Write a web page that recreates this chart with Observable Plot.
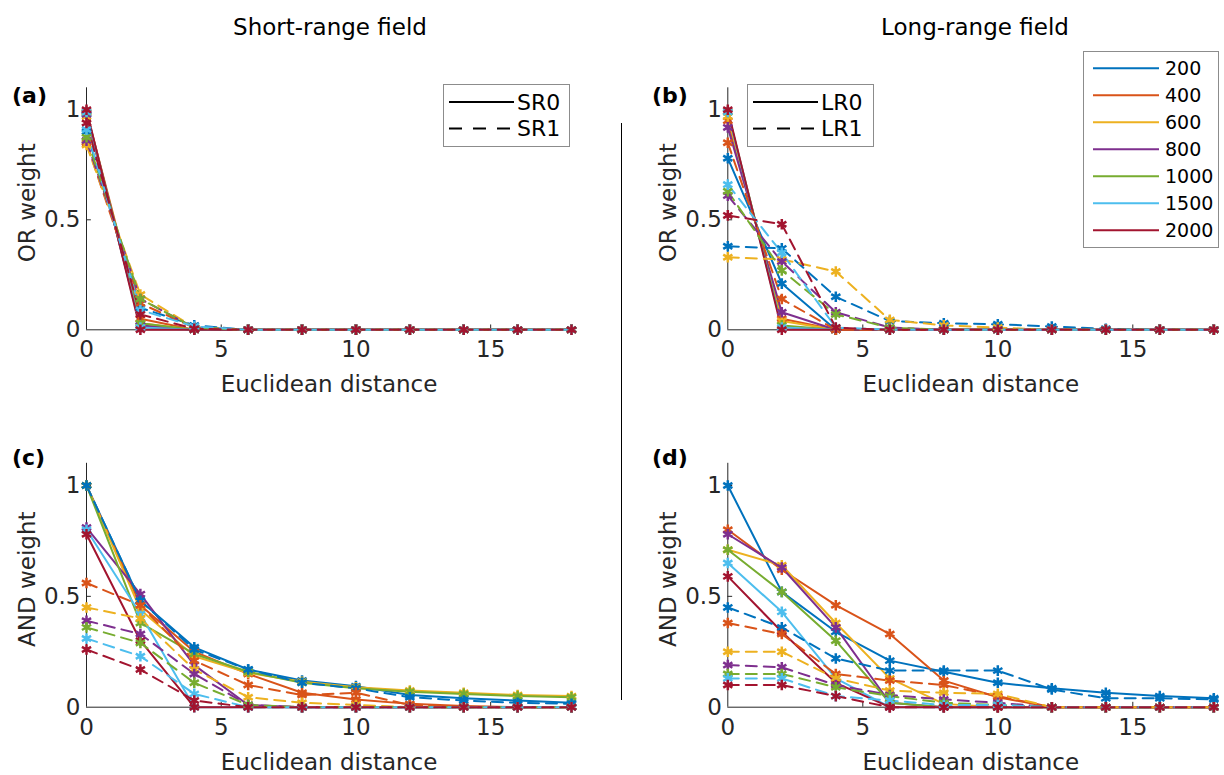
<!DOCTYPE html>
<html><head><meta charset="utf-8">
<script src="https://cdn.jsdelivr.net/npm/d3@7"></script>
<script src="https://cdn.jsdelivr.net/npm/@observablehq/plot@0.6"></script>
<style>
body{margin:0;background:#fff;}
#root{position:relative;width:1224px;height:775px;font-family:"DejaVu Sans",sans-serif;color:#262626;overflow:hidden;background:#fff}
.abs{position:absolute}
.title{font-size:23px;line-height:30px;text-align:center;width:400px;color:#000}
.plab{font-size:22px;font-weight:bold;line-height:30px;color:#000}
</style></head><body><div id="root"></div><script>
// ---------- data ----------
const distances = [0, 2, 4, 6, 8, 10, 12, 14, 16, 18];
const fields = ["200", "400", "600", "800", "1000", "1500", "2000"];
const palette = ["#0072BD", "#D95319", "#EDB120", "#7E2F8E", "#77AC30", "#4DBEEE", "#A2142F"];
const xTicks = [0, 5, 10, 15];
const yTicks = [0, 0.5, 1];

// (a) OR weight, short-range field: SR0 (solid) / SR1 (dashed); one row per field size
const orSR0 = [
  [0.98, 0.02, 0, 0, 0, 0, 0, 0, 0, 0],
  [0.99, 0.05, 0, 0, 0, 0, 0, 0, 0, 0],
  [0.97, 0.03, 0, 0, 0, 0, 0, 0, 0, 0],
  [0.98, 0.02, 0, 0, 0, 0, 0, 0, 0, 0],
  [0.99, 0.03, 0, 0, 0, 0, 0, 0, 0, 0],
  [0.99, 0.01, 0, 0, 0, 0, 0, 0, 0, 0],
  [1.00, 0.00, 0, 0, 0, 0, 0, 0, 0, 0]
];
const orSR1 = [
  [0.90, 0.10, 0.02, 0, 0, 0, 0, 0, 0, 0],
  [0.85, 0.12, 0.01, 0, 0, 0, 0, 0, 0, 0],
  [0.84, 0.16, 0.01, 0, 0, 0, 0, 0, 0, 0],
  [0.86, 0.14, 0.01, 0, 0, 0, 0, 0, 0, 0],
  [0.875, 0.14, 0.01, 0, 0, 0, 0, 0, 0, 0],
  [0.91, 0.09, 0.015, 0, 0, 0, 0, 0, 0, 0],
  [0.94, 0.07, 0.005, 0, 0, 0, 0, 0, 0, 0]
];
// (b) OR weight, long-range field: LR0 (solid) / LR1 (dashed)
const orLR0 = [
  [0.78, 0.21, 0, 0, 0, 0, 0, 0, 0, 0],
  [0.95, 0.05, 0, 0, 0, 0, 0, 0, 0, 0],
  [0.97, 0.04, 0, 0, 0, 0, 0, 0, 0, 0],
  [0.92, 0.08, 0, 0, 0, 0, 0, 0, 0, 0],
  [0.99, 0.02, 0, 0, 0, 0, 0, 0, 0, 0],
  [0.99, 0.01, 0, 0, 0, 0, 0, 0, 0, 0],
  [1.00, 0.00, 0, 0, 0, 0, 0, 0, 0, 0]
];
const orLR1 = [
  [0.38, 0.37, 0.15, 0.04, 0.03, 0.025, 0.015, 0.005, 0, 0],
  [0.85, 0.14, 0.00, 0, 0, 0, 0, 0, 0, 0],
  [0.33, 0.32, 0.265, 0.045, 0.02, 0.01, 0, 0, 0, 0],
  [0.61, 0.31, 0.08, 0.01, 0, 0, 0, 0, 0, 0],
  [0.63, 0.27, 0.07, 0.01, 0, 0, 0, 0, 0, 0],
  [0.66, 0.35, 0.01, 0, 0, 0, 0, 0, 0, 0],
  [0.52, 0.48, 0.01, 0, 0, 0, 0, 0, 0, 0]
];
// (c) AND weight, short-range field
const andSR0 = [
  [1.00, 0.48, 0.27, 0.17, 0.12, 0.095, 0.055, 0.04, 0.03, 0.02],
  [1.00, 0.46, 0.25, 0.15, 0.065, 0.035, 0.015, 0.005, 0, 0],
  [1.00, 0.44, 0.23, 0.155, 0.115, 0.09, 0.075, 0.065, 0.055, 0.05],
  [0.81, 0.51, 0.19, 0.01, 0, 0, 0, 0, 0, 0],
  [1.00, 0.38, 0.24, 0.16, 0.11, 0.085, 0.07, 0.06, 0.05, 0.045],
  [0.80, 0.42, 0.00, 0, 0, 0, 0, 0, 0, 0],
  [0.78, 0.30, 0.00, 0, 0, 0, 0, 0, 0, 0]
];
const andSR1 = [
  [1.00, 0.48, 0.26, 0.17, 0.11, 0.085, 0.045, 0.03, 0.02, 0.015],
  [0.56, 0.46, 0.21, 0.10, 0.055, 0.065, 0.01, 0, 0, 0],
  [0.45, 0.40, 0.17, 0.045, 0.02, 0.01, 0, 0, 0, 0],
  [0.39, 0.33, 0.15, 0.01, 0, 0, 0, 0, 0, 0],
  [0.36, 0.29, 0.11, 0.01, 0, 0, 0, 0, 0, 0],
  [0.31, 0.23, 0.06, 0, 0, 0, 0, 0, 0, 0],
  [0.26, 0.17, 0.03, 0, 0, 0, 0, 0, 0, 0]
];
// (d) AND weight, long-range field
const andLR0 = [
  [1.00, 0.52, 0.34, 0.21, 0.16, 0.11, 0.085, 0.065, 0.05, 0.04],
  [0.80, 0.62, 0.46, 0.33, 0.12, 0.045, 0, 0, 0, 0],
  [0.71, 0.64, 0.38, 0.13, 0.015, 0, 0, 0, 0, 0],
  [0.78, 0.63, 0.36, 0.02, 0, 0, 0, 0, 0, 0],
  [0.71, 0.52, 0.30, 0.02, 0, 0, 0, 0, 0, 0],
  [0.65, 0.43, 0.13, 0, 0, 0, 0, 0, 0, 0],
  [0.59, 0.34, 0.11, 0, 0, 0, 0, 0, 0, 0]
];
const andLR1 = [
  [0.45, 0.36, 0.22, 0.165, 0.165, 0.165, 0.08, 0.04, 0.04, 0.035],
  [0.38, 0.33, 0.15, 0.12, 0.10, 0.05, 0, 0, 0, 0],
  [0.25, 0.25, 0.13, 0.075, 0.065, 0.06, 0, 0, 0, 0],
  [0.19, 0.18, 0.10, 0.055, 0.035, 0.02, 0, 0, 0, 0],
  [0.15, 0.15, 0.09, 0.05, 0.02, 0.01, 0, 0, 0, 0],
  [0.13, 0.13, 0.05, 0.03, 0.01, 0.01, 0, 0, 0, 0],
  [0.10, 0.10, 0.05, 0, 0, 0, 0, 0, 0, 0]
];

// ---------- drawing ----------
const root = document.getElementById("root");
const toRows = (arr) => arr.flatMap((vals, i) => vals.map((v, j) => ({field: fields[i], x: distances[j], y: v})));
const fmt = d => String(d);

function panel(solid, dashed, yLabel, geo) {
  const s = toRows(solid), d = toRows(dashed);
  const chart = Plot.plot({
    width: 612, height: geo.h,
    marginLeft: geo.ml, marginRight: geo.mr, marginTop: geo.mt, marginBottom: geo.mb,
    x: {domain: [0, 18]},
    y: {domain: [0, 1.1]},
    color: {domain: fields, range: palette},
    style: {fontFamily: "DejaVu Sans", fontSize: "23px", color: "#262626", background: "transparent", overflow: "visible"},
    marks: [
      Plot.ruleY([0], {stroke: "#262626", strokeWidth: 1}),
      Plot.ruleX([0], {stroke: "#262626", strokeWidth: 1}),
      Plot.ruleX(xTicks.slice(1), {y1: 0, y2: 0.022, stroke: "#262626"}),
      Plot.ruleY(yTicks.slice(1), {x1: 0, x2: 0.18, stroke: "#262626"}),
      Plot.axisX({ticks: xTicks, tickSize: 0, tickPadding: 11, tickFormat: fmt, label: null, fill: "#262626"}),
      Plot.axisY({ticks: yTicks, tickSize: 0, tickPadding: 6, tickFormat: fmt, label: null, fill: "#262626"}),
      Plot.text(["Euclidean distance"], {text: t => t, frameAnchor: "bottom", textAnchor: "middle", lineAnchor: "middle", dy: 55, fill: "#262626"}),
      Plot.text([yLabel], {text: t => t, frameAnchor: "left", textAnchor: "middle", lineAnchor: "middle", dx: -59, dy: -6, rotate: -90, fill: "#262626"}),
      Plot.line(s, {x: "x", y: "y", z: "field", stroke: "field", strokeWidth: 2}),
      Plot.line(d, {x: "x", y: "y", z: "field", stroke: "field", strokeWidth: 2, strokeDasharray: "11,7"}),
      Plot.dot(s, {x: "x", y: "y", stroke: "field", symbol: "asterisk", r: 5, strokeWidth: 2.5}),
      Plot.dot(d, {x: "x", y: "y", stroke: "field", symbol: "asterisk", r: 5, strokeWidth: 2.5})
    ]
  });
  chart.classList.add("abs");
  chart.style.left = geo.left + "px";
  chart.style.top = geo.top + "px";
  root.appendChild(chart);
}

const topRow = {top: 60, h: 340, mt: 27.3, mb: 70.7};
const botRow = {top: 440, h: 335, mt: 22.8, mb: 68.3};
const leftCol = {left: 0, ml: 86, mr: 41};
const rightCol = {left: 612, ml: 115.3, mr: 10.7};

panel(orSR0, orSR1, "OR weight", {...topRow, ...leftCol});
panel(orLR0, orLR1, "OR weight", {...topRow, ...rightCol});
panel(andSR0, andSR1, "AND weight", {...botRow, ...leftCol});
panel(andLR0, andLR1, "AND weight", {...botRow, ...rightCol});

// titles, panel letters, divider
function addDiv(cls, text, left, top, extra) {
  const el = document.createElement("div");
  el.className = "abs " + cls;
  el.textContent = text;
  el.style.left = left + "px"; el.style.top = top + "px";
  if (extra) Object.assign(el.style, extra);
  root.appendChild(el);
}
addDiv("title", "Short-range field", 130, 12);
addDiv("title", "Long-range field", 775, 12);
addDiv("plab", "(a)", 12, 81);
addDiv("plab", "(b)", 652, 81);
addDiv("plab", "(c)", 12, 443);
addDiv("plab", "(d)", 652, 443);
const divider = document.createElement("div");
divider.className = "abs";
Object.assign(divider.style, {left: "621px", top: "123px", width: "1px", height: "577px", background: "#000"});
root.appendChild(divider);

// legends
const NS = "http://www.w3.org/2000/svg";
function svgEl(tag, attrs, parent) {
  const e = document.createElementNS(NS, tag);
  for (const k in attrs) if (attrs[k] != null) e.setAttribute(k, attrs[k]);
  parent.appendChild(e);
  return e;
}
function styleLegend(left, top, labels) {
  const svg = svgEl("svg", {width: 128, height: 63}, root);
  svg.setAttribute("class", "abs");
  svg.style.left = left + "px"; svg.style.top = top + "px";
  svgEl("rect", {x: 0.5, y: 0.5, width: 126, height: 62, fill: "#fff", stroke: "#8c8c8c"}, svg);
  labels.forEach((lab, i) => {
    const y = 18 + i * 26.6;
    svgEl("line", {x1: 6, x2: 71, y1: y, y2: y, stroke: "#000", "stroke-width": 2, "stroke-dasharray": i ? "13,11" : null}, svg);
    const t = svgEl("text", {x: 74, y: y, dy: "0.35em", "font-family": "DejaVu Sans", "font-size": 22, fill: "#000"}, svg);
    t.textContent = lab;
  });
}
styleLegend(443, 84, ["SR0", "SR1"]);
styleLegend(747, 84, ["LR0", "LR1"]);

(function colorLegend() {
  const svg = svgEl("svg", {width: 137, height: 198}, root);
  svg.setAttribute("class", "abs");
  svg.style.left = "1083px"; svg.style.top = "51px";
  svgEl("rect", {x: 0.5, y: 0.5, width: 135, height: 196, fill: "#fff", stroke: "#8c8c8c"}, svg);
  fields.forEach((f, i) => {
    const y = 17.3 + i * 27;
    svgEl("line", {x1: 10, x2: 76, y1: y, y2: y, stroke: palette[i], "stroke-width": 2}, svg);
    const t = svgEl("text", {x: 82, y: y, dy: "0.35em", "font-family": "DejaVu Sans", "font-size": 19, fill: "#000"}, svg);
    t.textContent = f;
  });
})();
</script></body></html>
